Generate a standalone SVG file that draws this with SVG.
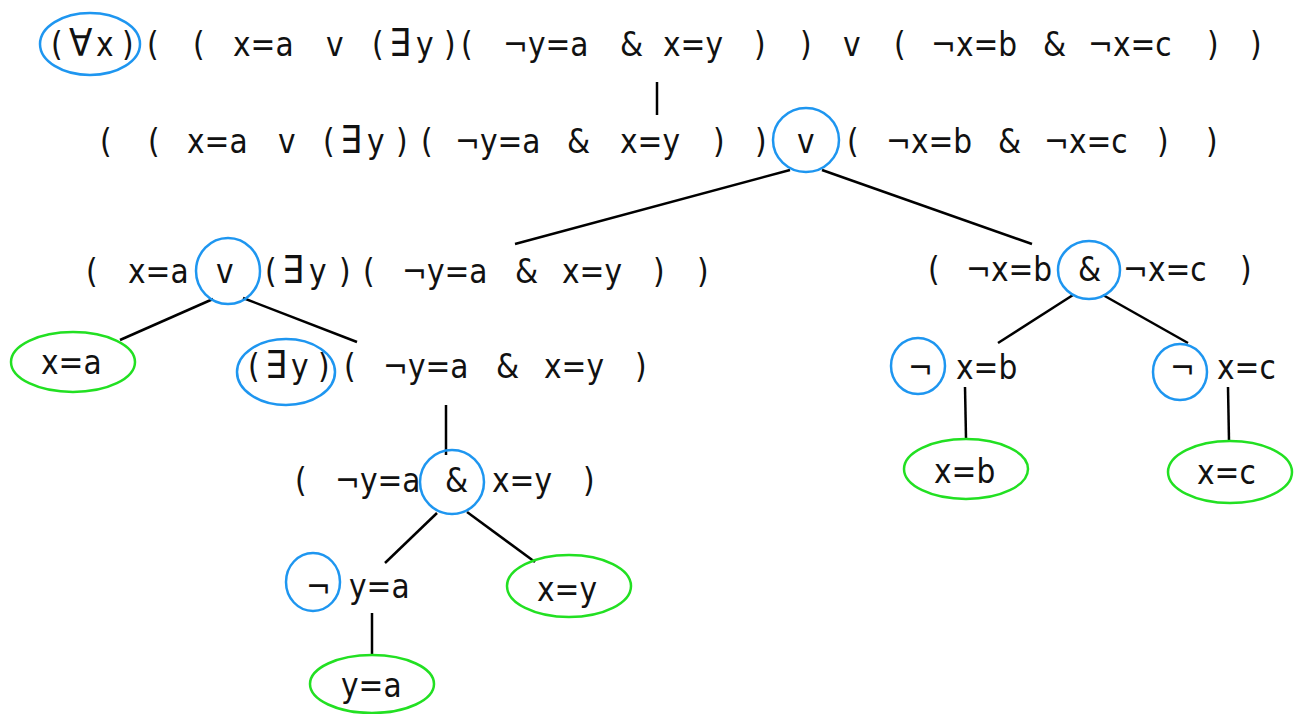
<svg xmlns="http://www.w3.org/2000/svg" width="1297" height="714" viewBox="0 0 1297 714">
<style>
text{font-family:"DejaVu Sans Condensed","DejaVu Sans","Noto Sans",sans-serif;font-stretch:condensed;font-size:33px;fill:#111}
.qn{font-size:38px}
.op{fill:none;stroke:#1e96f0;stroke-width:2.5}
.leaf{fill:none;stroke:#22e022;stroke-width:2.5}
.c line{stroke:#000;stroke-width:2.5}
</style>
<rect width="1297" height="714" fill="#fff"/>
<g class="c" id="connectors">
<line x1="657" y1="82" x2="657" y2="115"/>
<line x1="790" y1="170" x2="515" y2="244"/>
<line x1="822" y1="170" x2="1032" y2="244"/>
<line x1="213" y1="299" x2="120" y2="340"/>
<line x1="243" y1="298" x2="357" y2="342"/>
<line x1="446" y1="405" x2="446" y2="455"/>
<line x1="1073" y1="295" x2="998" y2="343"/>
<line x1="1103" y1="295" x2="1188" y2="343"/>
<line x1="965" y1="387" x2="966" y2="438"/>
<line x1="1228" y1="387" x2="1229" y2="441"/>
<line x1="437" y1="513" x2="385" y2="563"/>
<line x1="467" y1="512" x2="535" y2="562"/>
<line x1="372" y1="613" x2="372" y2="655"/>
</g>
<g id="n1">
<ellipse class="op" cx="90" cy="44" rx="50" ry="31"/>
<text y="56"><tspan x="51">(</tspan><tspan class="qn" x="69">∀</tspan><tspan x="96">x</tspan><tspan x="122">)</tspan><tspan x="147">(</tspan><tspan x="193">(</tspan><tspan x="233">x=a</tspan><tspan x="326">v</tspan><tspan x="372">(</tspan><tspan class="qn" x="389">∃</tspan><tspan x="416">y</tspan><tspan x="444">)</tspan><tspan x="461">(</tspan><tspan x="503">¬y=a</tspan><tspan x="620">&amp;</tspan><tspan x="663">x=y</tspan><tspan x="754">)</tspan><tspan x="800">)</tspan><tspan x="843">v</tspan><tspan x="894">(</tspan><tspan x="931">¬x=b</tspan><tspan x="1043">&amp;</tspan><tspan x="1088">¬x=c</tspan><tspan x="1207">)</tspan><tspan x="1250">)</tspan></text>
</g>
<g id="n2">
<ellipse class="op" cx="806" cy="140" rx="33" ry="32"/>
<text y="153"><tspan x="100">(</tspan><tspan x="148">(</tspan><tspan x="187">x=a</tspan><tspan x="278">v</tspan><tspan x="323">(</tspan><tspan class="qn" x="340">∃</tspan><tspan x="367">y</tspan><tspan x="396">)</tspan><tspan x="421">(</tspan><tspan x="455">¬y=a</tspan><tspan x="567">&amp;</tspan><tspan x="620">x=y</tspan><tspan x="713">)</tspan><tspan x="755">)</tspan><tspan x="797">v</tspan><tspan x="847">(</tspan><tspan x="886">¬x=b</tspan><tspan x="998">&amp;</tspan><tspan x="1044">¬x=c</tspan><tspan x="1157">)</tspan><tspan x="1206">)</tspan></text>
</g>
<g id="n3">
<ellipse class="op" cx="228" cy="271" rx="32" ry="33"/>
<text y="283"><tspan x="86">(</tspan><tspan x="128">x=a</tspan><tspan x="216">v</tspan><tspan x="265">(</tspan><tspan class="qn" x="282">∃</tspan><tspan x="309">y</tspan><tspan x="339">)</tspan><tspan x="363">(</tspan><tspan x="402">¬y=a</tspan><tspan x="515">&amp;</tspan><tspan x="562">x=y</tspan><tspan x="653">)</tspan><tspan x="697">)</tspan></text>
</g>
<g id="n4">
<ellipse class="op" cx="1089" cy="270" rx="31" ry="29"/>
<text y="281"><tspan x="928">(</tspan><tspan x="966">¬x=b</tspan><tspan x="1078">&amp;</tspan><tspan x="1123">¬x=c</tspan><tspan x="1240">)</tspan></text>
</g>
<g id="n5">
<ellipse class="leaf" cx="73" cy="362" rx="62" ry="30"/>
<text x="41" y="374">x=a</text>
</g>
<g id="n6">
<ellipse class="op" cx="286" cy="372" rx="49" ry="33"/>
<text y="378"><tspan x="248">(</tspan><tspan class="qn" x="265">∃</tspan><tspan x="291">y</tspan><tspan x="318">)</tspan><tspan x="344">(</tspan><tspan x="383">¬y=a</tspan><tspan x="496">&amp;</tspan><tspan x="544">x=y</tspan><tspan x="635">)</tspan></text>
</g>
<g id="n7">
<ellipse class="op" cx="452" cy="482" rx="32" ry="32"/>
<text y="492"><tspan x="295">(</tspan><tspan x="335">¬y=a</tspan><tspan x="445">&amp;</tspan><tspan x="492">x=y</tspan><tspan x="583">)</tspan></text>
</g>
<g id="n8">
<ellipse class="op" cx="918" cy="366" rx="27" ry="28"/>
<text y="379"><tspan x="908">¬</tspan><tspan x="956">x=b</tspan></text>
</g>
<g id="n9">
<ellipse class="op" cx="1180" cy="372" rx="27" ry="28"/>
<text y="379"><tspan x="1170">¬</tspan><tspan x="1217">x=c</tspan></text>
</g>
<g id="n10">
<ellipse class="leaf" cx="966" cy="469" rx="62" ry="30"/>
<text x="934" y="483">x=b</text>
</g>
<g id="n11">
<ellipse class="leaf" cx="1230" cy="472" rx="62" ry="31"/>
<text x="1197" y="484">x=c</text>
</g>
<g id="n12">
<ellipse class="op" cx="313" cy="582" rx="27" ry="29"/>
<text y="598"><tspan x="306">¬</tspan><tspan x="349">y=a</tspan></text>
</g>
<g id="n13">
<ellipse class="leaf" cx="569" cy="586" rx="62" ry="31"/>
<text x="537" y="601">x=y</text>
</g>
<g id="n14">
<ellipse class="leaf" cx="372" cy="684" rx="62" ry="29"/>
<text x="341" y="697">y=a</text>
</g>
</svg>
